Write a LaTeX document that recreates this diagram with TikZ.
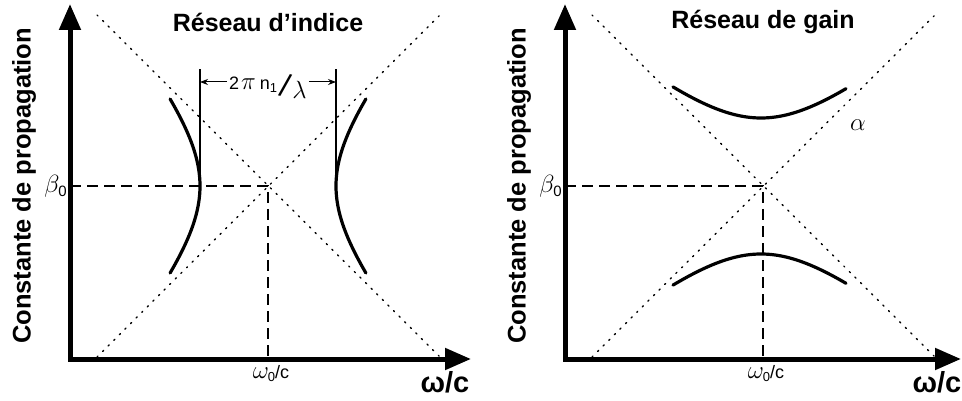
\documentclass[tikz,border=0pt]{standalone}
\usepackage{fontspec}
\setmainfont{Liberation Sans}
\usetikzlibrary{arrows.meta}
\tikzset{
  axis/.style={line width=5pt},
  asym/.style={line width=1.4pt, dash pattern=on 1.4pt off 6.5pt, line cap=round},
  guide/.style={line width=1.5pt, dash pattern=on 11pt off 6pt},
  branch/.style={line width=3.2pt, line cap=round},
  mark line/.style={line width=1.5pt},
  title/.style={font=\fontsize{25}{25}\selectfont\bfseries},
  ylab/.style={font=\fontsize{25.5}{25.5}\selectfont\bfseries, rotate=90},
  xlab/.style={font=\fontsize{29}{29}\selectfont\bfseries},
  lbl/.style={font=\fontsize{18}{18}\selectfont, inner sep=1pt}
}
\newcommand{\wzero}{{\fontsize{23}{23}\selectfont$\omega$}\hspace{-1pt}\raisebox{-3pt}{\fontsize{13}{13}\selectfont 0}/c}
\newcommand{\bzero}{{\fontsize{25}{25}\selectfont$\beta$}\hspace{-1pt}\raisebox{-4pt}{\fontsize{15}{15}\selectfont 0}}
\begin{document}
\begin{tikzpicture}[x=1pt,y=-1pt]
\useasboundingbox (0,0) rectangle (962,401);
% ---------- left panel ----------
\coordinate (Ltop) at (70,4);
\coordinate (Lo) at (70,359);
\coordinate (Lend) at (471,359);
\draw[axis, {Triangle[length=26pt,width=21pt]}-{Triangle[length=26pt,width=21pt]}, line join=miter] (Ltop) -- (Lo) -- (Lend);
\coordinate (La1) at (97,15);  \coordinate (La2) at (440,357);
\coordinate (Lb1) at (97,357); \coordinate (Lb2) at (440,15);
\draw[asym] (La1) -- (La2);
\draw[asym] (Lb1) -- (Lb2);
\coordinate (Lc) at (268,186);
\coordinate (Lcy) at (70,186);
\coordinate (Lcx) at (268,357);
\draw[guide] (Lcy) -- (Lc) -- (Lcx);
\draw[branch] plot[domain=-87:87, samples=60] ({268-68*sqrt(1+(\x/84)^2)}, {186+\x});
\draw[branch] plot[domain=-87:87, samples=60] ({268+68*sqrt(1+(\x/84)^2)}, {186+\x});
\coordinate (Lv1) at (200,186); \coordinate (Lv1t) at (200,69);
\coordinate (Lv2) at (336,186); \coordinate (Lv2t) at (336,69);
\draw[mark line] (Lv1) -- (Lv1t);
\draw[mark line] (Lv2) -- (Lv2t);
\node[inner sep=2pt, anchor=west] (dimtext) at (227,86)
  {{\fontsize{18}{18}\selectfont 2\hspace{2pt}}{\fontsize{23}{23}\selectfont$\pi$}\hspace{4pt}{\fontsize{18}{18}\selectfont n\raisebox{-3pt}{\fontsize{13}{13}\selectfont 1}}\hspace{1pt}\raisebox{-6pt}{\rotatebox{-14}{\fontsize{32}{32}\selectfont /}}\hspace{0pt}\raisebox{-9pt}{\fontsize{25}{25}\selectfont$\lambda$}};
\coordinate (d1) at (200,82); \coordinate (d2) at (336,82);
\draw[line width=1pt, -{Stealth[length=8pt,width=6pt]}] (dimtext.west |- d1) -- (d1);
\draw[line width=1pt, -{Stealth[length=8pt,width=6pt]}] (dimtext.east |- d2) -- (d2);
\node[title] (Lt) at (268,22) {Réseau d'indice};
\node[ylab] (Ly) at (24,186) {Constante de propagation};
\node[anchor=east, inner sep=1pt] (Lbeta) at (68,186) {\bzero};
\node[lbl] (Lw0) at (271,374) {\wzero};
\node[xlab] (Lw) at (445,382) {ω/c};
% ---------- right panel ----------
\coordinate (Rtop) at (565,4);
\coordinate (Ro) at (565,359);
\coordinate (Rend) at (961,359);
\draw[axis, {Triangle[length=26pt,width=21pt]}-{Triangle[length=26pt,width=21pt]}, line join=miter] (Rtop) -- (Ro) -- (Rend);
\coordinate (Ra1) at (592,15);  \coordinate (Ra2) at (935,357);
\coordinate (Rb1) at (592,357); \coordinate (Rb2) at (935,15);
\draw[asym] (Ra1) -- (Ra2);
\draw[asym] (Rb1) -- (Rb2);
\coordinate (Rc) at (763,186);
\coordinate (Rcy) at (565,186);
\coordinate (Rcx) at (763,357);
\draw[guide] (Rcy) -- (Rc) -- (Rcx);
\draw[branch] plot[domain=-88:85, samples=60] ({761+\x}, {186-68*sqrt(1+(\x/83)^2)});
\draw[branch] plot[domain=-88:85, samples=60] ({761+\x}, {186+68*sqrt(1+(\x/83)^2)});
\node (Ralpha) at (858,125) {\fontsize{25}{25}\selectfont$\alpha$};
\node[title] (Rt) at (763,22) {Réseau de gain};
\node[ylab] (Ry) at (519,186) {Constante de propagation};
\node[anchor=east, inner sep=1pt] (Rbeta) at (563,186) {\bzero};
\node[lbl] (Rw0) at (766,374) {\wzero};
\node[xlab] (Rw) at (937,382) {ω/c};
\end{tikzpicture}
\end{document}
